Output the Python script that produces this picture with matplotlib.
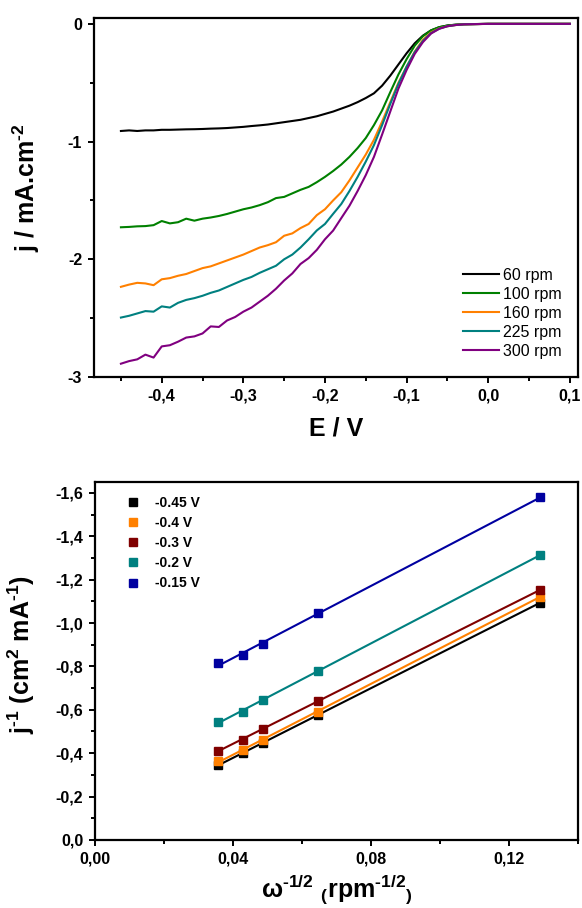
import matplotlib
matplotlib.use("Agg")
import matplotlib.pyplot as plt
import numpy as np
from matplotlib.ticker import MultipleLocator, FuncFormatter

# ---------------- data: top panel (LSV curves) ----------------
E = [-0.45, -0.44, -0.43, -0.42, -0.41, -0.40, -0.39, -0.38, -0.37, -0.36,
     -0.35, -0.34, -0.33, -0.32, -0.31, -0.30, -0.29, -0.28, -0.27, -0.26,
     -0.25, -0.24, -0.23, -0.22, -0.21, -0.20, -0.19, -0.18, -0.17, -0.16,
     -0.15, -0.14, -0.13, -0.12, -0.11, -0.10, -0.09, -0.08, -0.07, -0.06,
     -0.05, -0.04, -0.03, 0.00, 0.05, 0.10]

j_60 = [-0.91, -0.905, -0.91, -0.905, -0.905, -0.90, -0.90, -0.898, -0.896, -0.895,
        -0.893, -0.89, -0.888, -0.885, -0.88, -0.875, -0.868, -0.862, -0.855, -0.845,
        -0.835, -0.825, -0.815, -0.80, -0.785, -0.765, -0.745, -0.72, -0.695, -0.665,
        -0.63, -0.59, -0.525, -0.44, -0.345, -0.25, -0.165, -0.10, -0.055, -0.028,
        -0.014, -0.007, -0.003, 0.0, 0.0, 0.0]
j_100 = [-1.728, -1.725, -1.72, -1.718, -1.71, -1.675, -1.695, -1.685, -1.655, -1.672,
         -1.655, -1.645, -1.632, -1.615, -1.595, -1.575, -1.56, -1.54, -1.515, -1.48,
         -1.47, -1.44, -1.41, -1.385, -1.345, -1.30, -1.25, -1.195, -1.13, -1.055,
         -0.97, -0.86, -0.735, -0.58, -0.43, -0.30, -0.185, -0.105, -0.055, -0.028,
         -0.014, -0.007, -0.003, 0.0, 0.0, 0.0]
j_160 = [-2.234, -2.215, -2.20, -2.205, -2.22, -2.17, -2.16, -2.14, -2.125, -2.10,
         -2.075, -2.06, -2.035, -2.01, -1.985, -1.96, -1.93, -1.90, -1.88, -1.855,
         -1.80, -1.78, -1.735, -1.70, -1.625, -1.575, -1.50, -1.43, -1.33, -1.22,
         -1.11, -0.985, -0.83, -0.665, -0.50, -0.364, -0.235, -0.135, -0.072, -0.038,
         -0.02, -0.01, -0.004, 0.0, 0.0, 0.0]
j_225 = [-2.495, -2.48, -2.46, -2.44, -2.445, -2.40, -2.41, -2.37, -2.345, -2.33,
         -2.31, -2.285, -2.265, -2.235, -2.205, -2.175, -2.15, -2.115, -2.085, -2.055,
         -2.00, -1.96, -1.90, -1.83, -1.755, -1.70, -1.614, -1.53, -1.42, -1.30,
         -1.17, -1.03, -0.86, -0.68, -0.51, -0.364, -0.24, -0.145, -0.078, -0.04,
         -0.02, -0.01, -0.004, 0.0, 0.0, 0.0]
j_300 = [-2.887, -2.865, -2.85, -2.81, -2.835, -2.74, -2.73, -2.70, -2.665, -2.655,
         -2.63, -2.57, -2.575, -2.52, -2.49, -2.445, -2.41, -2.36, -2.31, -2.25,
         -2.18, -2.12, -2.04, -1.99, -1.92, -1.83, -1.756, -1.65, -1.545, -1.42,
         -1.285, -1.13, -0.94, -0.745, -0.55, -0.392, -0.255, -0.155, -0.082, -0.042,
         -0.02, -0.01, -0.004, 0.0, 0.0, 0.0]

rpm_labels = ['60 rpm', '100 rpm', '160 rpm', '225 rpm', '300 rpm']
lsv_curves = [j_60, j_100, j_160, j_225, j_300]
lsv_colors = ['black', '#008000', '#FF8000', '#008080', '#800080']

# ---------------- data: bottom panel (Koutecky-Levich) ----------------
w_inv = [0.0357, 0.0430, 0.0488, 0.0645, 0.1291]
kl_045 = [-0.346, -0.400, -0.449, -0.576, -1.094]
kl_040 = [-0.364, -0.415, -0.461, -0.592, -1.122]
kl_030 = [-0.412, -0.463, -0.513, -0.641, -1.153]
kl_020 = [-0.546, -0.592, -0.645, -0.779, -1.314]
kl_015 = [-0.817, -0.853, -0.904, -1.045, -1.580]

kl_labels = ['-0.45 V', '-0.4 V', '-0.3 V', '-0.2 V', '-0.15 V']
kl_series = [kl_045, kl_040, kl_030, kl_020, kl_015]
kl_colors = ['black', '#FF8000', '#800000', '#008080', '#0000A0']

plt.rcParams['font.family'] = 'Liberation Sans'
plt.rcParams['mathtext.fontset'] = 'custom'
plt.rcParams['mathtext.rm'] = 'Liberation Sans:bold'
plt.rcParams['mathtext.it'] = 'Liberation Sans:bold'
plt.rcParams['mathtext.bf'] = 'Liberation Sans:bold'
plt.rcParams['mathtext.default'] = 'rm'

fig = plt.figure(figsize=(5.82, 9.08), dpi=100)


def comma_fmt(nd):
    def f(v, pos):
        s = ('%.' + str(nd) + 'f') % v
        if s.startswith('-') and float(s) == 0:
            s = s[1:]
        return s.replace('.', ',')
    return FuncFormatter(f)


def style_axes(ax):
    for sp in ax.spines.values():
        sp.set_linewidth(1.6)
    ax.tick_params(which='both', direction='out', width=1.4, top=False, right=False)
    ax.tick_params(which='major', length=4.5, labelsize=11.5, pad=4)
    ax.tick_params(which='minor', length=3)
    for lab in ax.get_xticklabels() + ax.get_yticklabels():
        lab.set_fontweight('bold')


# ---- top panel ----
ax1 = fig.add_axes([0.1615, 0.5848, 0.8316, 0.3954])
for jj, lab, col in zip(lsv_curves, rpm_labels, lsv_colors):
    ax1.plot(E, jj, color=col, lw=1.5, label=lab)
ax1.set_xlim(-0.483, 0.11)
ax1.set_ylim(-3.0, 0.05)
ax1.xaxis.set_major_locator(MultipleLocator(0.1))
ax1.xaxis.set_minor_locator(MultipleLocator(0.05))
ax1.yaxis.set_major_locator(MultipleLocator(1))
ax1.yaxis.set_minor_locator(MultipleLocator(0.5))
ax1.xaxis.set_major_formatter(comma_fmt(1))
ax1.yaxis.set_major_formatter(comma_fmt(0))
style_axes(ax1)
ax1.set_xlabel('E / V', fontsize=18, fontweight='bold', labelpad=9)
ax1.set_ylabel(r'j / mA.cm$^{\text{-}2}$', fontsize=18, fontweight='bold')
ax1.yaxis.set_label_coords(-0.107, 0.526)
leg1 = ax1.legend(loc='lower right', frameon=False, fontsize=11.5,
                  handlelength=2.2, handletextpad=0.3, labelspacing=0.25,
                  borderpad=0, borderaxespad=0,
                  bbox_to_anchor=(0.967, 0.05))

# ---- bottom panel ----
ax2 = fig.add_axes([0.1632, 0.0749, 0.830, 0.3943])
for yy, lab, col in zip(kl_series, kl_labels, kl_colors):
    k, b = np.polyfit(w_inv, yy, 1)
    xs = np.array([w_inv[0], w_inv[-1]])
    ax2.plot(xs, k * xs + b, color=col, lw=1.5)
    ax2.plot(w_inv, yy, 's', color=col, ms=5.5, label=lab)
ax2.set_xlim(0, 0.14)
ax2.set_ylim(0, -1.65)
ax2.xaxis.set_major_locator(MultipleLocator(0.04))
ax2.xaxis.set_minor_locator(MultipleLocator(0.02))
ax2.yaxis.set_major_locator(MultipleLocator(0.2))
ax2.yaxis.set_minor_locator(MultipleLocator(0.1))
ax2.xaxis.set_major_formatter(comma_fmt(2))
ax2.yaxis.set_major_formatter(comma_fmt(1))
style_axes(ax2)
ax2.set_xlabel(r'$\omega^{\text{-}1/2}\ _{(}rpm^{\text{-}1/2}{}_{)}$', fontsize=18, labelpad=4)
ax2.set_ylabel(r'j$^{\text{-}1}$ (cm$^{2}$ mA$^{\text{-}1}$)', fontsize=18,
               fontweight='bold')
ax2.yaxis.set_label_coords(-0.12, 0.518)
leg2 = ax2.legend(loc='upper left', frameon=False, prop={'size': 10, 'weight': 'bold'},
                  handlelength=2.0, handletextpad=0.6, labelspacing=0.44,
                  borderpad=0, borderaxespad=0,
                  bbox_to_anchor=(0.05, 0.961))

fig.savefig('out.png', dpi=100)
